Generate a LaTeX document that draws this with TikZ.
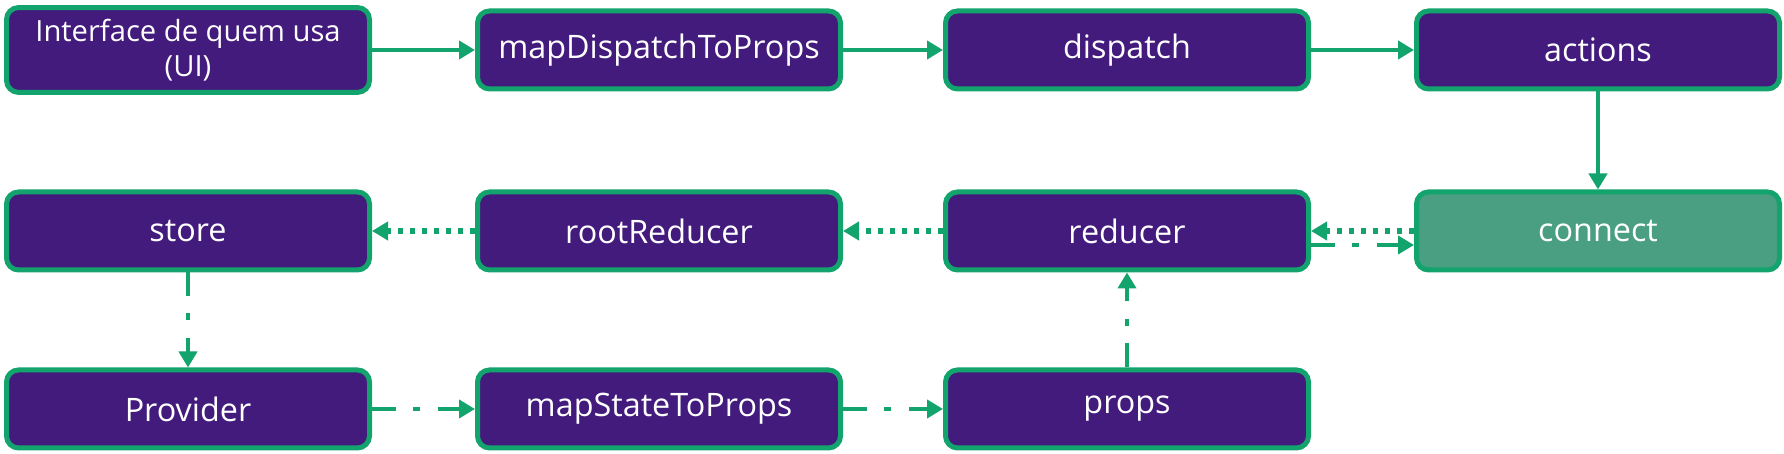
\documentclass[tikz,border=0pt]{standalone}
\usepackage{fontspec}
\setmainfont{Open Sans}
\usetikzlibrary{arrows.meta}
\definecolor{roxo}{HTML}{431B7C}
\definecolor{verde}{HTML}{12A46C}
\definecolor{verdeclaro}{HTML}{4A9E82}
\tikzset{caixa/.style={draw=verde,fill=roxo,line width=0.05cm,rounded corners=0.12cm,
		minimum width=3.63cm,minimum height=0.78cm,text=white,align=center,
		font=\fontsize{9.2}{10.5}\selectfont},
	seta/.style={draw=verde,line width=0.045cm,-{Triangle[width=0.18cm,length=0.16cm]}},
	pontos/.style={seta,line width=0.055cm,dash pattern=on 0.05cm off 0.07cm},
	traco/.style={seta,dash pattern=on 0.24cm off 0.17cm on 0.07cm off 0.18cm}}
\newcommand{\caixa}[3]{\node[caixa] (#1) at (#2) {#3}}

\begin{document}
\begin{tikzpicture}
	\useasboundingbox (0,0) rectangle (17.84,4.54);
		\node[caixa,font=\fontsize{8.3}{9.8}\selectfont] (ui) at (1.88,4.04) {Interface de quem usa\\(UI)};
		\caixa{mdp}{6.59,4.04}{mapDispatchToProps};
		\caixa{dispatch}{11.27,4.04}{dispatch};
		\caixa{actions}{15.98,4.04}{actions};
		\caixa{store}{1.88,2.23}{store};
		\caixa{root}{6.59,2.23}{rootReducer};
		\caixa{reducer}{11.27,2.23}{reducer};
		\node[caixa,fill=verdeclaro] (connect) at (15.98,2.23) {connect};
		\caixa{provider}{1.88,0.45}{Provider};
		\caixa{msp}{6.59,0.45}{mapStateToProps};
		\caixa{props}{11.27,0.45}{props};
			\draw[seta] (ui) -- (mdp);
			\draw[seta] (mdp) -- (dispatch);
			\draw[seta] (dispatch) -- (actions);
			\draw[seta] (actions) -- (connect);
			\draw[pontos] (connect) -- (reducer);
			\draw[traco] ([yshift=-0.14cm]reducer.east) -- ([yshift=-0.14cm]connect.west);
			\draw[pontos] (reducer) -- (root);
			\draw[pontos] (root) -- (store);
			\draw[traco] (store) -- (provider);
			\draw[traco] (provider) -- (msp);
			\draw[traco] (msp) -- (props);
			\draw[traco] (props) -- (reducer);
\end{tikzpicture}
\end{document}
